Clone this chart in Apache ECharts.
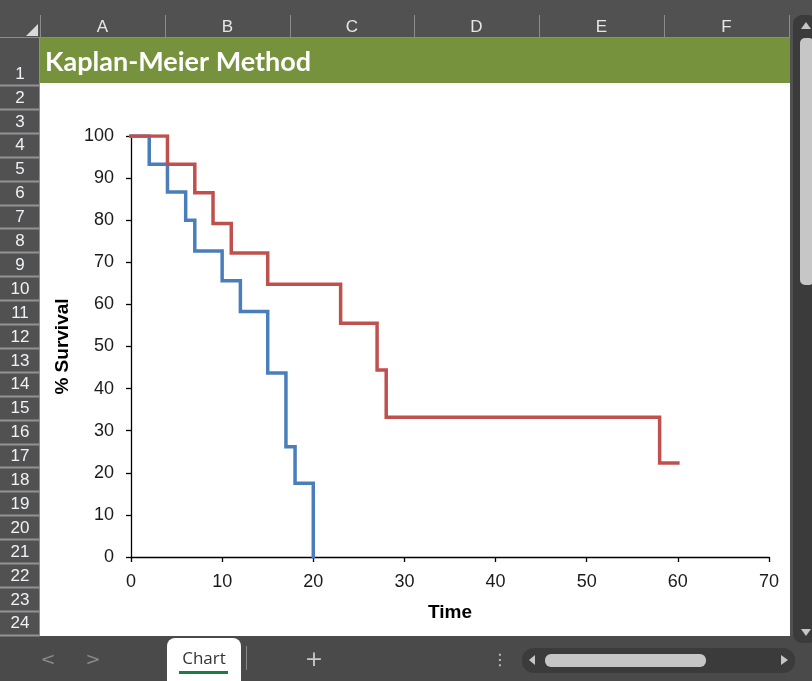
<!DOCTYPE html>
<html>
<head>
<meta charset="utf-8">
<script src="https://cdn.jsdelivr.net/npm/echarts@6/dist/echarts.min.js"></script>
<style>
html,body{margin:0;padding:0;background:#fff;}
#c{width:812px;height:681px;}
</style>
</head>
<body>
<div id="c"></div>
<script>
// ---- data ----
var title = "Kaplan-Meier Method";
var xAxisTitle = "Time";
var yAxisTitle = "% Survival";
var groupATimes = [0, 2, 4, 6, 7, 10, 12, 15, 17, 18, 20];
var groupASurvival = [100, 93.3, 86.7, 80.0, 72.7, 65.6, 58.3, 43.7, 26.2, 17.5, 0];
var groupBTimes = [0, 4, 7, 9, 11, 15, 23, 27, 28, 58, 60];
var groupBSurvival = [100, 93.3, 86.5, 79.2, 72.2, 64.8, 55.5, 44.4, 33.2, 22.3, 22.3];
var columnLetters = ["A", "B", "C", "D", "E", "F"];
var rowNumbers = [];
for (var r = 1; r <= 24; r++) rowNumbers.push(String(r));
var sheetName = "Chart";

function pairs(xs, ys) { return xs.map(function (x, i) { return [x, ys[i]]; }); }

var frame = '#515151';
var g = [];
// top header band
g.push({type:'rect', shape:{x:0,y:0,width:812,height:38}, style:{fill:frame}, silent:true});
// row header band
g.push({type:'rect', shape:{x:0,y:0,width:40,height:681}, style:{fill:frame}, silent:true});
// right side band
g.push({type:'rect', shape:{x:790,y:0,width:22,height:681}, style:{fill:frame}, silent:true});
// bottom tab bar
g.push({type:'rect', shape:{x:0,y:636,width:812,height:45}, style:{fill:'#4a4a4a'}, silent:true});
// corner triangle
g.push({type:'polygon', shape:{points:[[38,24],[38,36],[26,36]]}, style:{fill:'#d9d9d9'}, silent:true});
// column separators
var colEdges = [40, 165, 290, 414, 539, 664, 789];
for (var i = 0; i < colEdges.length; i++) {
  g.push({type:'line', shape:{x1:colEdges[i]+0.5,y1:15,x2:colEdges[i]+0.5,y2:38}, style:{stroke:'#8c8c8c',lineWidth:1}, silent:true});
}
for (var i = 0; i < columnLetters.length; i++) {
  g.push({type:'text', x:(colEdges[i]+colEdges[i+1])/2, y:27, style:{text:columnLetters[i], fill:'#e6e6e6', font:'17px "Liberation Sans"', align:'center', verticalAlign:'middle'}, silent:true});
}
g.push({type:'line', shape:{x1:0,y1:37.5,x2:790,y2:37.5}, style:{stroke:'#8c8c8c',lineWidth:1}, silent:true});
// rows
var rowTop = [38, 85];
var rh = 23.9;
for (var r = 2; r < 24; r++) rowTop.push(85 + (r - 1) * rh);
rowTop.push(85 + 23 * rh);
for (var r = 0; r < 24; r++) {
  var y0 = rowTop[r], y1 = rowTop[r+1];
  g.push({type:'line', shape:{x1:0,y1:Math.round(y1)+0.5,x2:40,y2:Math.round(y1)+0.5}, style:{stroke:'#939393',lineWidth:2}, silent:true});
  var ty = r === 0 ? y1 - 11 : (y0 + y1) / 2 + 1;
  g.push({type:'text', x:20, y:ty, style:{text:rowNumbers[r], fill:'#eef2f6', font:'17px "Liberation Sans"', align:'center', verticalAlign:'middle'}, silent:true});
}
g.push({type:'line', shape:{x1:39.5,y1:38,x2:39.5,y2:636}, style:{stroke:'#8f8f8f',lineWidth:1}, silent:true});
// green title row
g.push({type:'rect', shape:{x:40,y:38,width:750,height:45}, style:{fill:'#76923c'}, silent:true});
g.push({type:'text', x:45, y:62, style:{text:title, fill:'#ffffff', font:'bold 27px Lato', align:'left', verticalAlign:'middle'}, silent:true});
// vertical scrollbar
g.push({type:'rect', shape:{x:793,y:15,width:24,height:628,r:9}, style:{fill:'#3b3b3b'}, silent:true});
g.push({type:'rect', shape:{x:800,y:38,width:14,height:247,r:5}, style:{fill:'#c6c6c6'}, silent:true});
g.push({type:'polygon', shape:{points:[[806,22],[811,29],[801,29]]}, style:{fill:'#c6c6c6'}, silent:true});
g.push({type:'polygon', shape:{points:[[806,636],[811,629],[801,629]]}, style:{fill:'#c6c6c6'}, silent:true});
// sheet tab
g.push({type:'rect', shape:{x:167,y:638,width:74,height:50,r:[8,8,0,0]}, style:{fill:'#ffffff'}, silent:true});
g.push({type:'text', x:204, y:659, style:{text:sheetName, fill:'#333333', font:'17px "Open Sans"', align:'center', verticalAlign:'middle'}, silent:true});
g.push({type:'rect', shape:{x:179,y:671,width:49,height:3}, style:{fill:'#1e7b45'}, silent:true});
g.push({type:'line', shape:{x1:246.5,y1:646,x2:246.5,y2:670}, style:{stroke:'#8a8a8a',lineWidth:1}, silent:true});
g.push({type:'text', x:48, y:660, style:{text:'<', fill:'#8a8a8a', font:'18px "DejaVu Sans"', align:'center', verticalAlign:'middle'}, silent:true});
g.push({type:'text', x:93, y:660, style:{text:'>', fill:'#8a8a8a', font:'18px "DejaVu Sans"', align:'center', verticalAlign:'middle'}, silent:true});
g.push({type:'text', x:314, y:660, style:{text:'+', fill:'#c8c8c8', font:'22px "DejaVu Sans"', align:'center', verticalAlign:'middle'}, silent:true});
g.push({type:'text', x:500, y:661, style:{text:'⋮', fill:'#c8c8c8', font:'16px "DejaVu Sans"', align:'center', verticalAlign:'middle'}, silent:true});
// horizontal scrollbar
g.push({type:'rect', shape:{x:522,y:648,width:273,height:25,r:12}, style:{fill:'#3b3b3b'}, silent:true});
g.push({type:'rect', shape:{x:545,y:654,width:161,height:13,r:6}, style:{fill:'#c6c6c6'}, silent:true});
g.push({type:'polygon', shape:{points:[[529,660],[535,655],[535,665]]}, style:{fill:'#c6c6c6'}, silent:true});
g.push({type:'polygon', shape:{points:[[788,660],[781,655],[781,665]]}, style:{fill:'#c6c6c6'}, silent:true});

var axisFont = '"Liberation Sans", Arial, sans-serif';
var chart = echarts.init(document.getElementById('c'), null, {renderer:'canvas'});
chart.setOption({
  backgroundColor: '#ffffff',
  animation: false,
  graphic: { elements: g },
  grid: { left: 131, right: 43, top: 136, bottom: 124, containLabel: false },
  xAxis: {
    type: 'value', min: 0, max: 70, interval: 10,
    name: xAxisTitle, nameLocation: 'middle', nameGap: 46,
    nameTextStyle: { fontFamily: axisFont, fontWeight: 'bold', fontSize: 19, color: '#000' },
    axisLine: { show: true, onZero: false, lineStyle: { color: '#000', width: 1.3 } },
    axisTick: { show: true, inside: false, length: 5, lineStyle: { color: '#000', width: 1.3 } },
    axisLabel: { fontFamily: axisFont, fontSize: 18, color: '#1a1a1a', margin: 16 },
    splitLine: { show: false }
  },
  yAxis: {
    type: 'value', min: 0, max: 100, interval: 10,
    name: yAxisTitle, nameLocation: 'middle', nameGap: 59, nameRotate: 90,
    nameTextStyle: { fontFamily: axisFont, fontWeight: 'bold', fontSize: 19, color: '#000' },
    axisLine: { show: true, lineStyle: { color: '#000', width: 1.3 } },
    axisTick: { show: true, inside: false, length: 5, lineStyle: { color: '#000', width: 1.3 } },
    axisLabel: { fontFamily: axisFont, fontSize: 18, color: '#1a1a1a', margin: 17 },
    splitLine: { show: false }
  },
  series: [
    { type: 'line', step: 'end', data: pairs(groupATimes, groupASurvival), showSymbol: false,
      lineStyle: { color: '#4a7ebb', width: 3.5, cap: 'square', join: 'miter' }, z: 3 },
    { type: 'line', step: 'end', data: pairs(groupBTimes, groupBSurvival), showSymbol: false,
      lineStyle: { color: '#c0504d', width: 3.5, cap: 'square', join: 'miter' }, z: 4 }
  ]
});
</script>
</body>
</html>
